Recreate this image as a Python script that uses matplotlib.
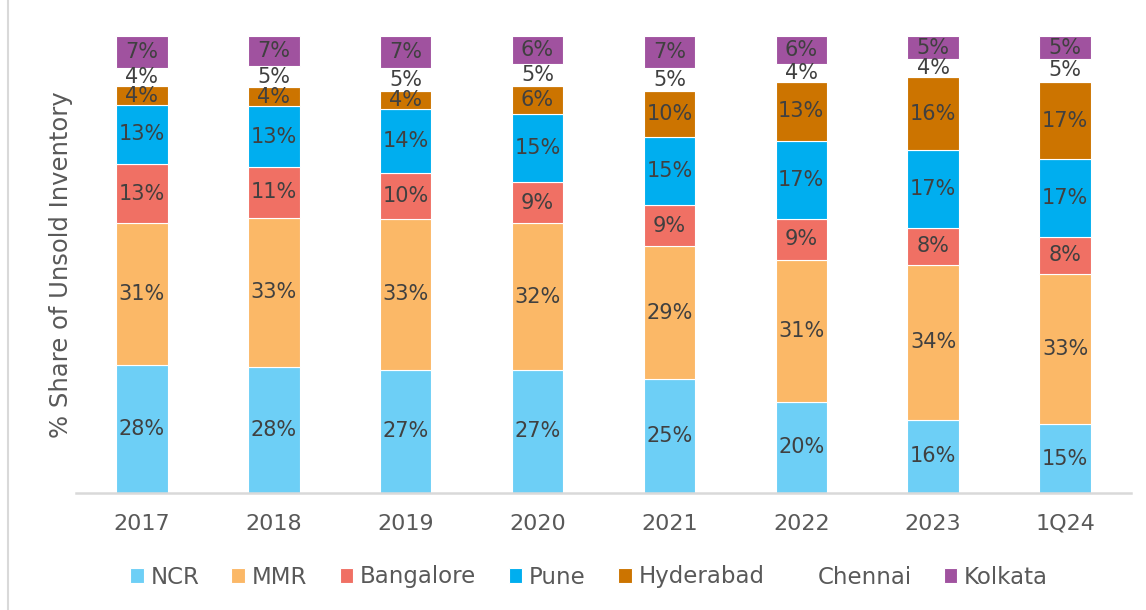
import matplotlib.pyplot as plt
import numpy as np
from matplotlib.lines import Line2D

periods = ['2017', '2018', '2019', '2020', '2021', '2022', '2023', '1Q24']
ncr = [28, 27.6, 27, 27, 25, 20, 16, 15]
mmr = [31, 32.6, 33, 32, 29, 31, 34, 33]
bangalore = [13, 11.2, 10, 9, 9, 9, 8, 8]
pune = [13, 13.2, 14, 15, 15, 17, 17, 17]
hyderabad = [4, 4.2, 4, 6, 10, 13, 16, 17]
chennai = [4, 4.6, 5, 5, 5, 4, 4, 5]
kolkata = [7, 6.6, 7, 6, 7, 6, 5, 5]

series = [
    ('NCR', ncr, '#6DCFF6'),
    ('MMR', mmr, '#FBB867'),
    ('Bangalore', bangalore, '#F07064'),
    ('Pune', pune, '#00AEEF'),
    ('Hyderabad', hyderabad, '#CC7400'),
    ('Chennai', chennai, '#FFFFFF'),
    ('Kolkata', kolkata, '#A0529F'),
]

txt = '#404040'
fig = plt.figure(figsize=(11.46, 6.10), dpi=100)
ax = fig.add_axes([0.0663, 0.1918, 0.9206, 0.749])

x = np.arange(len(periods))
bottom = np.zeros(len(periods))
for name, vals, col in series:
    vals = np.array(vals, dtype=float)
    bars = ax.bar(x, vals, 0.39, bottom=bottom, color=col, label=name,
                  edgecolor='white', linewidth=0.8)
    ax.bar_label(bars, labels=['%.0f%%' % v for v in vals], label_type='center',
                 fontsize=15, color=txt)
    bottom += vals

ax.set_xlim(-0.5, 7.5)
ax.set_ylim(0, 100)
ax.set_xticks(x)
ax.set_xticklabels(periods, fontsize=16, color='#595959')
ax.tick_params(axis='x', length=0, pad=15)
ax.set_yticks([])
for s in ['left', 'right', 'top']:
    ax.spines[s].set_visible(False)
ax.spines['bottom'].set_color('#D9D9D9')
ax.spines['bottom'].set_linewidth(1.8)
ax.set_ylabel('% Share of Unsold Inventory', fontsize=17.5, color='#595959', labelpad=2)

fig.legend(loc='center', bbox_to_anchor=(589 / 1146, 1 - 577 / 610), ncol=7,
           frameon=False, fontsize=16.5, labelcolor='#595959',
           handlelength=0.6, handleheight=0.6, handletextpad=0.3,
           columnspacing=1.4)

fig.add_artist(Line2D([8 / 1146, 8 / 1146], [0, 1], color='#D9D9D9', linewidth=1.5))

fig.savefig('out.png', dpi=100)
